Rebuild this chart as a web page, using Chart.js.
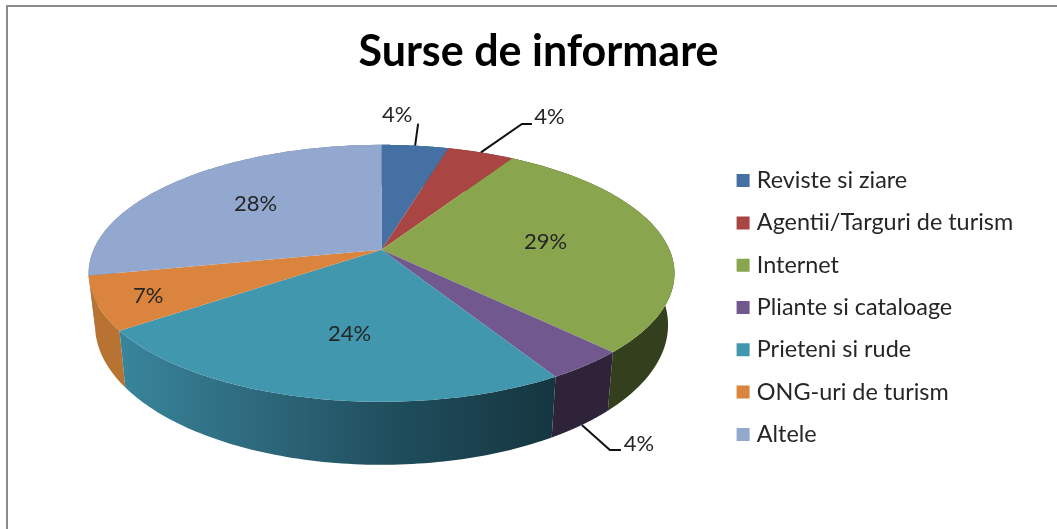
<!DOCTYPE html>
<html><head><meta charset="utf-8">
<script src="https://cdn.jsdelivr.net/npm/chart.js@4/dist/chart.umd.min.js"></script>
<style>html,body{margin:0;padding:0;background:#fff}canvas{display:block}</style>
</head><body><canvas id="c" width="1057" height="529"></canvas>
<script>
const categories = ["Reviste si ziare","Agentii/Targuri de turism","Internet","Pliante si cataloage","Prieteni si rude","ONG-uri de turism","Altele"];
const values = [4.4,4.4,28.9,3.8,23.6,6.7,28.2];
const topColors = ["#4470a4","#a94644","#89a54e","#71588f","#4197ae","#da843d","#92a8ce"];
const sideColors = ["#33547a","#7e3432","#333f1d","#2e2338",null,"#b87333","#6e7e9a"];

// Perspective of the tilted disc
const A = 288, B = 124.2, P = 0.183, SX = 0.978, SY = 1.088, DROP = 49.6;
function rim(el, angle, f) {
  const a = angle + Math.PI / 2;
  const u = Math.sin(a) * f, v = -Math.cos(a) * f, w = 1 - P * v;
  return { x: el.x + A * u / w, y: el.y + B * v / w };
}
function lower(el, p) {
  return { x: el.x + SX * (p.x - el.x), y: el.y + DROP + SY * (p.y - el.y) };
}
function sweep(el, visit, reverse, map) {
  const n = 80;
  for (let i = 0; i <= n; i++) {
    const t = reverse ? 1 - i / n : i / n;
    let p = rim(el, el.startAngle + (el.endAngle - el.startAngle) * t, 1);
    if (map) p = map(p);
    visit(p);
  }
}
const labelPlacement = [
  { f: 1, dx: -18, dy: -31, leader: [[3, -22]] },
  { f: 1, dx: 68.5, dy: -35.6, leader: [[41, -28.5], [51, -28.5]] },
  { f: 0.58, dx: 0, dy: 0 },
  { f: 1, dx: 57, dy: 19, low: true, leader: [[28, 25], [39, 25]] },
  { f: 0.614, dx: 9, dy: 0 },
  { f: 0.84, dx: 3, dy: 1.5 },
  { f: 0.63, dx: 5, dy: 0 }
];

const pie3d = {
  id: "pie3d",
  afterLayout(chart) {
    const lg = chart.legend, tb = chart.titleBlock;
    const shiftX = 737 + 4.5 - 19.3 - lg.left;
    lg.left += shiftX; lg.right += shiftX;
    lg.top = 150; lg.bottom = lg.top + lg.height;
    const shiftT = 538.5 - (tb.left + tb.right) / 2;
    tb.left += shiftT; tb.right += shiftT;
  },
  beforeDraw(chart) {
    const c = chart.ctx;
    c.save();
    c.fillStyle = "#fff"; c.fillRect(0, 0, 1057, 529);
    c.fillStyle = "#8c8c8c";
    c.fillRect(6, 5, 1051, 2);
    c.fillRect(6, 5, 2, 524);
    c.restore();
  },
  beforeDatasetsDraw(chart) {
    const c = chart.ctx, arcs = chart.getDatasetMeta(0).data;
    c.save();
    const low = el => p => lower(el, p);
    [6, 0, 1, 2, 3, 5, 4].forEach(i => {
      const el = arcs[i];
      c.beginPath();
      let first = true;
      const add = p => { first ? c.moveTo(p.x, p.y) : c.lineTo(p.x, p.y); first = false; };
      sweep(el, add, false);
      sweep(el, add, true, low(el));
      c.closePath();
      if (sideColors[i]) c.fillStyle = sideColors[i];
      else {
        const s = rim(el, el.endAngle, 1), e = rim(el, el.startAngle, 1);
        const g = c.createLinearGradient(s.x, 0, e.x, 0);
        g.addColorStop(0, "#38859b");
        g.addColorStop(0.28, "#2f6c80");
        g.addColorStop(0.65, "#1f4c5b");
        g.addColorStop(1, "#153640");
        c.fillStyle = g;
      }
      c.fill();
    });
    arcs.forEach((el, i) => {
      c.beginPath();
      c.moveTo(el.x, el.y);
      sweep(el, p => c.lineTo(p.x, p.y), false);
      c.closePath();
      c.fillStyle = topColors[i];
      c.fill();
    });
    c.font = "22px Lato";
    c.textAlign = "center"; c.textBaseline = "middle";
    arcs.forEach((el, i) => {
      const pl = labelPlacement[i];
      const mid = (el.startAngle + el.endAngle) / 2;
      let p = rim(el, mid, pl.f);
      if (pl.low) p = lower(el, p);
      if (pl.leader) {
        c.beginPath();
        c.moveTo(p.x, p.y);
        pl.leader.forEach(o => c.lineTo(p.x + o[0], p.y + o[1]));
        c.strokeStyle = "#111"; c.lineWidth = 2; c.stroke();
      }
      c.fillStyle = "#262626";
      c.fillText(Math.round(values[i]) + "%", p.x + pl.dx, p.y + pl.dy);
    });
    c.restore();
    return false;
  }
};

new Chart(document.getElementById("c"), {
  type: "pie",
  data: { labels: categories, datasets: [{ data: values, backgroundColor: topColors, borderWidth: 0 }] },
  plugins: [pie3d],
  options: {
    responsive: false, animation: false,
    layout: { padding: { left: 7, right: 0, top: 26, bottom: 109 } },
    plugins: {
      tooltip: { enabled: false },
      title: { display: true, text: "Surse de informare", color: "#000",
        font: { family: "Lato", size: 43, weight: "bold" }, padding: { top: 0, bottom: 2 } },
      legend: { position: "right", align: "start", labels: {
        boxWidth: 4, boxHeight: 4, padding: 18.9, color: "#262626",
        font: { family: "Lato", size: 23.4 },
        generateLabels: chart => categories.map((t, i) => ({
          text: t, fillStyle: topColors[i], strokeStyle: topColors[i],
          lineWidth: 9, lineJoin: "miter", hidden: false, index: i, fontColor: "#262626"
        }))
      } }
    }
  }
});
</script></body></html>
